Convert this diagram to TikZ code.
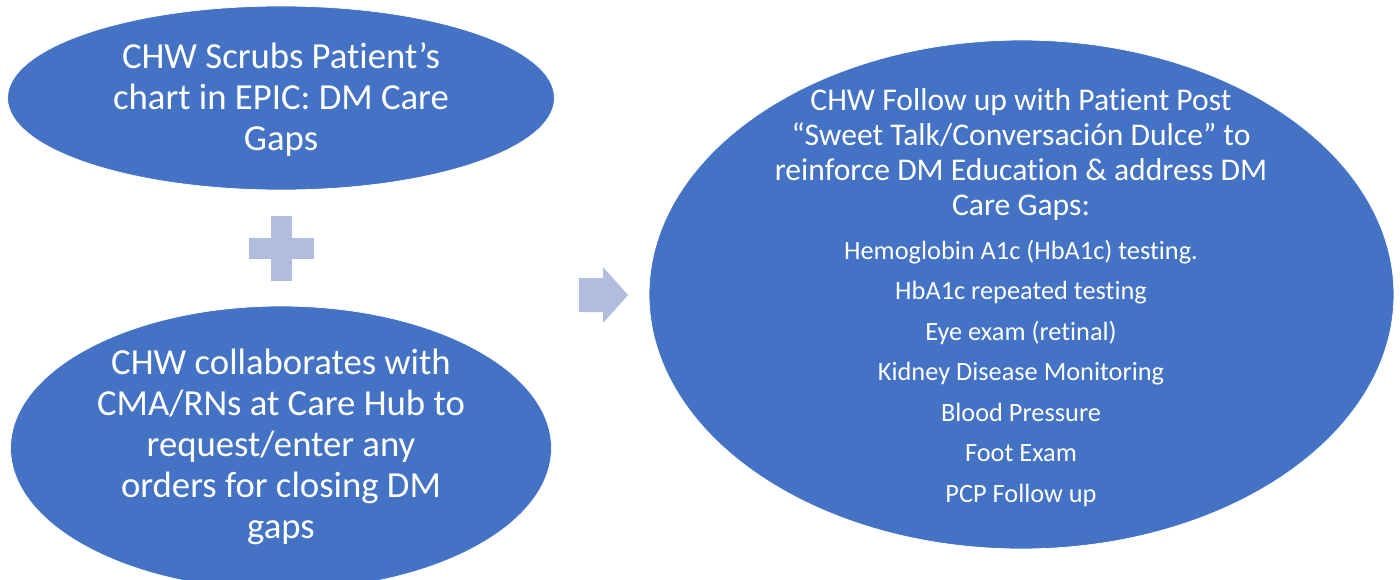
\documentclass[tikz,border=0pt]{standalone}
\usepackage{fontspec}
\setmainfont{Carlito}[RawFeature={-liga;-clig;-dlig;-calt}]
\usetikzlibrary{shapes.geometric}
\definecolor{careblue}{HTML}{4472C4}
\definecolor{softblue}{HTML}{B0BDDF}

\begin{document}
\begin{tikzpicture}[x=0.02cm, y=-0.02cm,
  blob/.style={ellipse, inner sep=0pt, outer sep=0pt, fill=careblue, draw=white},
  blobtext/.style={text=white, align=center, inner sep=0pt}]
\useasboundingbox (0,0) rectangle (1400,579);
\clip (0,0) rectangle (1400,579);

\node[blob, minimum width=10.94cm, minimum height=3.68cm] (scrub) at (281,98) {};
\node[blob, minimum width=10.82cm, minimum height=5.68cm] (collab) at (281,448) {};
\node[blob, minimum width=14.9cm, minimum height=10.18cm] (follow) at (1021.5,294.5) {};

% plus sign and block arrow
\fill[softblue] (271,216) rectangle (292,281);
\fill[softblue] (249,238) rectangle (314,259);
\fill[softblue] (579,278) -- (603,278) -- (603,267) -- (628,295) -- (603,323) -- (603,312) -- (579,312) -- cycle;

% Text positioned within the ellipses
\node[blobtext, font=\fontsize{20.9}{23.1}\selectfont] at (281,99.5) {CHW Scrubs Patient’s\\chart in EPIC: DM Care\\Gaps};
\node[blobtext, font=\fontsize{20.9}{23.3}\selectfont] at (281,447) {CHW collaborates with\\CMA/RNs at Care Hub to\\request/enter any\\orders for closing DM\\gaps};
\node[blobtext, font=\fontsize{18}{19.85}\selectfont] at (1021,154.5) {CHW Follow up with Patient Post\\“Sweet Talk/Conversación Dulce” to\\reinforce DM Education \& address DM\\Care Gaps:};
\node[blobtext, font=\fontsize{15}{23.05}\selectfont] at (1021,373) {Hemoglobin A1c (HbA1c) testing.\\HbA1c repeated testing\\Eye exam (retinal)\\Kidney Disease Monitoring\\Blood Pressure\\Foot Exam\\PCP Follow up};
\end{tikzpicture}
\end{document}
